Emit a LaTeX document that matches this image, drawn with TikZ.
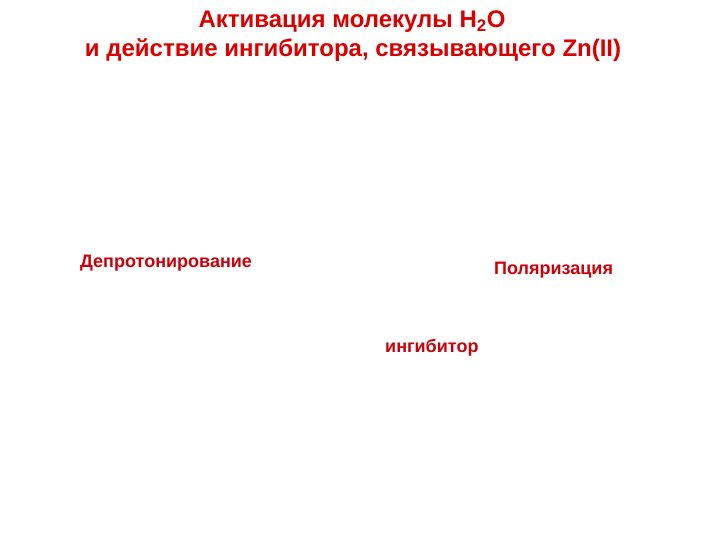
\documentclass[tikz,border=0pt]{standalone}
\usepackage{fontspec}
\setmainfont{Liberation Sans}
\definecolor{titlered}{RGB}{218,0,0}
\definecolor{labelred}{RGB}{205,0,10}
\begin{document}
\begin{tikzpicture}[
  x=1pt, y=-1pt,
  heading/.style={font=\bfseries\fontsize{24}{28}\selectfont, text=titlered, inner sep=0pt},
  tag/.style={font=\bfseries\fontsize{18}{21}\selectfont, text=labelred, inner sep=0pt},
  font=\small
]
\useasboundingbox[fill=white] (0,0) rectangle (720,540);
\node[heading] (title1) at (352,22) {Активация молекулы H\textsubscript{2}O};
\node[heading] (title2) at (353,50) {и действие ингибитора, связывающего Zn(II)};

\node[tag, anchor=west] (deprot) at (80,263) {Депротонирование};
\node[tag, anchor=west] (polar) at (494,270) {Поляризация};
\node[tag, anchor=west] (inhib) at (385,348) {ингибитор};
\end{tikzpicture}
\end{document}
